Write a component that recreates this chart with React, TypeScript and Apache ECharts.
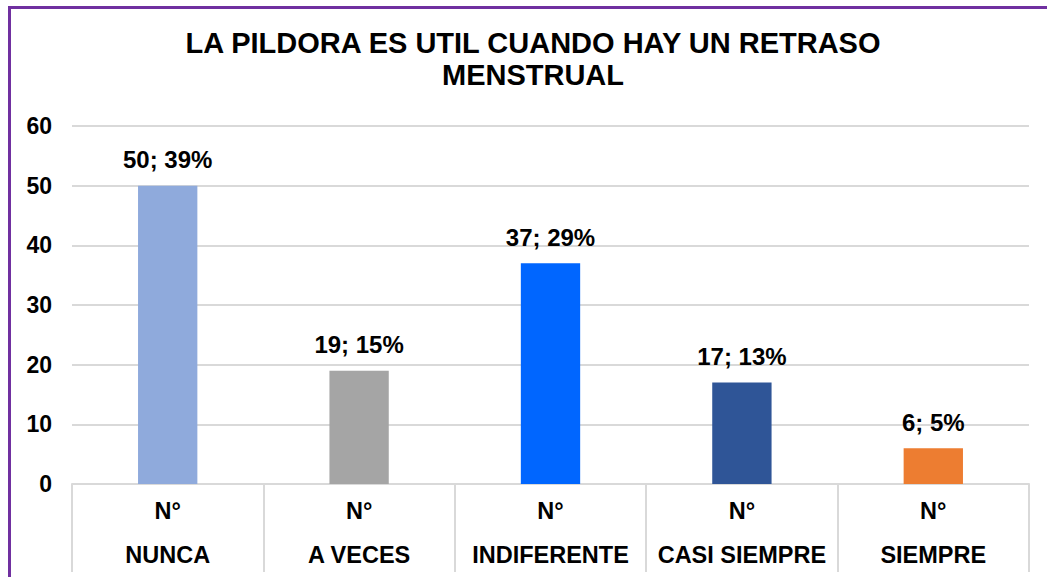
import React, { useEffect, useRef } from "react";
import * as echarts from "echarts";

const categories = ["NUNCA", "A VECES", "INDIFERENTE", "CASI SIEMPRE", "SIEMPRE"];
const counts = [50, 19, 37, 17, 6];
const percents = ["39%", "15%", "29%", "13%", "5%"];
const colors = ["#8faadc", "#a5a5a5", "#0066ff", "#2f5597", "#ed7d31"];
const titleText = "LA PILDORA ES UTIL CUANDO HAY UN RETRASO\nMENSTRUAL";

const FONT = "'Liberation Sans', Arial, sans-serif";

export default function App() {
  const ref = useRef<HTMLDivElement>(null);
  useEffect(() => {
    if (!ref.current) return;
    const chart = echarts.init(ref.current, null, { renderer: "svg" });
    chart.setOption({
      animation: false,
      backgroundColor: "#ffffff",
      textStyle: { fontFamily: FONT },
      title: {
        text: titleText,
        left: 533,
        textAlign: "center",
        top: 27,
        padding: 0,
        textStyle: { fontFamily: FONT, fontSize: 29, fontWeight: "bold", color: "#000", lineHeight: 32 },
      },
      graphic: [
        {
          type: "rect",
          shape: { x: 9.5, y: 7.5, width: 1100, height: 700 },
          style: { fill: "none", stroke: "#7030a0", lineWidth: 3 },
          silent: true,
        },
      ],
      grid: { left: 72, right: 18, top: 126, bottom: 93, containLabel: false },
      xAxis: {
        type: "category",
        data: categories,
        axisLine: { show: true, lineStyle: { color: "#d9d9d9", width: 2 } },
        axisTick: { show: true, length: 88, lineStyle: { color: "#d9d9d9", width: 2 } },
        axisLabel: {
          interval: 0,
          margin: 5,
          formatter: (v: string) => "{a|N°}\n{b|" + v + "}",
          rich: {
            a: { fontFamily: FONT, fontSize: 23.5, fontWeight: "bold", color: "#000", lineHeight: 44 },
            b: { fontFamily: FONT, fontSize: 23.5, fontWeight: "bold", color: "#000", lineHeight: 44 },
          },
        },
      },
      yAxis: {
        type: "value",
        min: 0,
        max: 60,
        interval: 10,
        axisLine: { show: false },
        axisTick: { show: false },
        axisLabel: { margin: 20, fontFamily: FONT, fontSize: 23, fontWeight: "bold", color: "#000" },
        splitLine: { lineStyle: { color: "#d9d9d9", width: 2 } },
      },
      series: [
        {
          type: "bar",
          barWidth: "31%",
          data: counts.map((v, i) => ({ value: v, itemStyle: { color: colors[i] } })),
          label: {
            show: true,
            position: "top",
            distance: 14,
            formatter: (p: any) => p.value + "; " + percents[p.dataIndex],
            fontFamily: FONT,
            fontSize: 24,
            fontWeight: "bold",
            color: "#000",
          },
        },
      ],
    });
    return () => chart.dispose();
  }, []);
  return (
    <div
      ref={ref}
      style={{ position: "fixed", left: 0, top: 0, width: 1047, height: 577 }}
    />
  );
}
